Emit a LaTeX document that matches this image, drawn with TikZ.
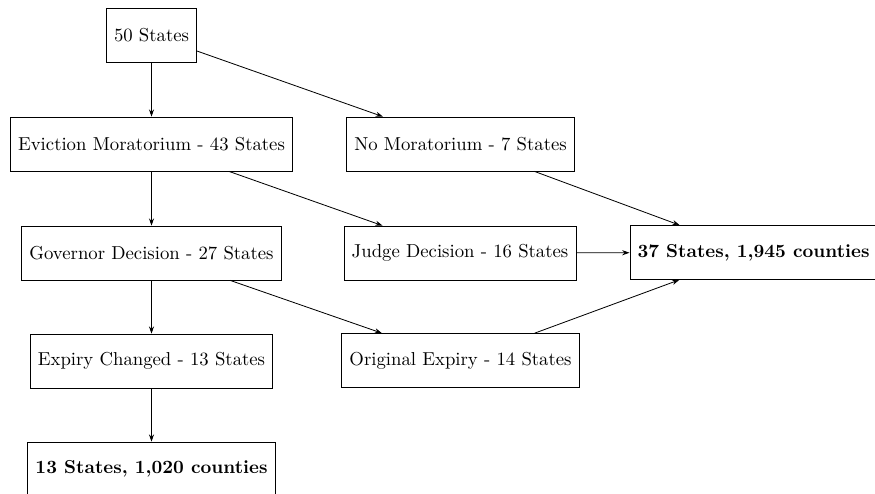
\documentclass[tikz,border=0pt]{standalone}
\usetikzlibrary{arrows.meta}
\begin{document}
\begin{tikzpicture}[x=0.55pt,y=-0.55pt,
  box/.style={draw, rectangle, minimum height=29.7pt, inner xsep=4.2pt, font=\fontsize{10.3}{12.4}\selectfont},
  bbox/.style={box, font=\fontsize{10.3}{12.4}\selectfont\bfseries},
  arr/.style={-{Stealth[length=4pt,width=2.8pt]}, line width=0.45pt}]
\useasboundingbox (0,0) rectangle (875,493);
\node[box] (s50) at (151.5,35) {50 States};
\node[box] (evict) at (151.5,144) {Eviction Moratorium - 43 States};
\node[box] (nomor) at (460.5,144) {No Moratorium - 7 States};
\node[box] (gov) at (151.5,253) {Governor Decision - 27 States};
\node[box] (judge) at (460,253) {Judge Decision - 16 States};
\node[bbox] (f37) at (753.5,252.5) {37 States, 1,945 counties};
\node[box] (exp) at (151.5,361) {Expiry Changed - 13 States};
\node[box] (orig) at (460.5,360.5) {Original Expiry - 14 States};
\node[bbox] (f13) at (151.5,469) {13 States, 1,020 counties};
\draw[arr] (s50) -- (evict);
\draw[arr] (s50) -- (nomor);
\draw[arr] (evict) -- (gov);
\draw[arr] (evict) -- (judge);
\draw[arr] (nomor) -- (f37);
\draw[arr] (judge) -- (f37);
\draw[arr] (gov) -- (exp);
\draw[arr] (gov) -- (orig);
\draw[arr] (orig) -- (f37);
\draw[arr] (exp) -- (f13);
\end{tikzpicture}
\end{document}
